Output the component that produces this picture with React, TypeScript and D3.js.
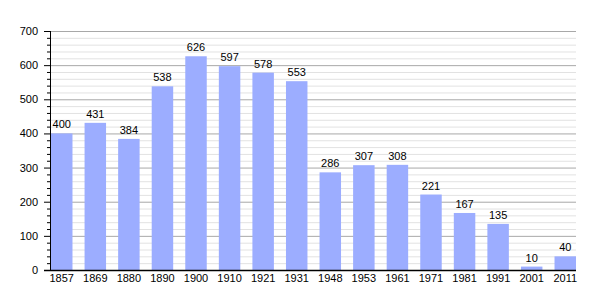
import React from "react";
import * as d3 from "d3";

const years = ["1857","1869","1880","1890","1900","1910","1921","1931","1948","1953","1961","1971","1981","1991","2001","2011"];
const population = [400,431,384,538,626,597,578,553,286,307,308,221,167,135,10,40];
const yTicks = [0,100,200,300,400,500,600,700];

export default function App() {
  const W = 605, H = 300;
  const left = 50, right = 576, top = 31, bottom = 270;
  const x = d3.scaleBand<string>().domain(years).range([left + 1, right]).paddingInner(0.36).paddingOuter(0);
  const y = d3.scaleLinear().domain([0, 700]).range([bottom, top]);
  const minor = d3.range(0, 701, 20);
  const font = "'Liberation Sans', Arial, sans-serif";
  return (
    <svg width={W} height={H} style={{ position: "absolute", left: 0, top: 0, background: "#fff" }} fontFamily={font}>
      {minor.filter(v => v % 100 !== 0).map(v => (
        <line key={"m" + v} x1={left} x2={right} y1={y(v) + 0.5} y2={y(v) + 0.5} stroke="#e2e2e2" strokeWidth={1} />
      ))}
      {yTicks.filter(v => v !== 0).map(v => (
        <line key={"M" + v} x1={left} x2={right} y1={y(v) + 0.5} y2={y(v) + 0.5} stroke="#a8a8a8" strokeWidth={1} />
      ))}
      {years.map((yr, i) => (
        <rect key={yr} x={x(yr)} y={y(population[i])} width={x.bandwidth()} height={bottom - y(population[i])} fill="#9cadff" />
      ))}
      {years.map((yr, i) => (
        <text key={"l" + yr} x={(x(yr) as number) + x.bandwidth() / 2} y={y(population[i]) - 5} textAnchor="middle" fontSize={11} fill="#000">
          {population[i]}
        </text>
      ))}
      {minor.map(v => (
        <line key={"t" + v} x1={v % 100 === 0 ? left - 6 : left - 3} x2={left} y1={y(v) + 0.5} y2={y(v) + 0.5} stroke="#000" strokeWidth={1} />
      ))}
      <line x1={left + 0.5} x2={left + 0.5} y1={top} y2={bottom + 1} stroke="#000" strokeWidth={1} />
      <line x1={left - 6} x2={right} y1={bottom + 0.5} y2={bottom + 0.5} stroke="#000" strokeWidth={1.5} />
      {yTicks.map(v => (
        <text key={"y" + v} x={left - 12} y={y(v) + 4} textAnchor="end" fontSize={11} fill="#000">{v}</text>
      ))}
      {years.map(yr => (
        <text key={"x" + yr} x={(x(yr) as number) + x.bandwidth() / 2} y={282} textAnchor="middle" fontSize={11} fill="#000">{yr}</text>
      ))}
    </svg>
  );
}
